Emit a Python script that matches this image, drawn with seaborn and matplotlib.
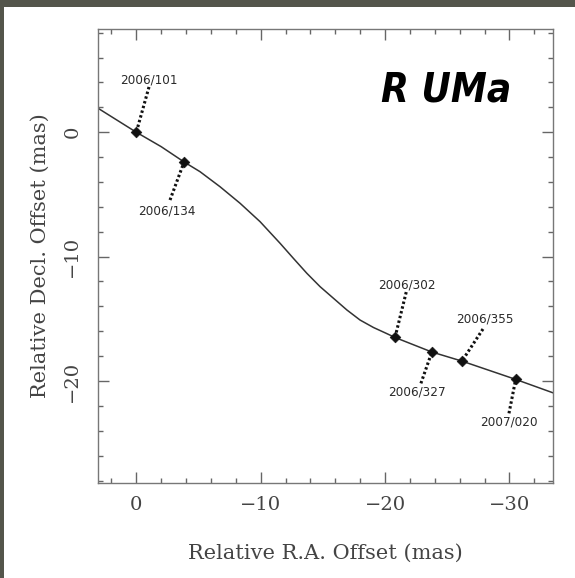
import matplotlib
matplotlib.use("Agg")
import matplotlib.pyplot as plt
import seaborn as sns
import pandas as pd
from matplotlib.patches import Rectangle
from matplotlib.ticker import MultipleLocator

sns.set_style("ticks")
plt.rcParams['font.family'] = ['DejaVu Serif']

# fitted parallax + proper motion track
curve_ra = [3.08, 0, -2.0, -3.84, -5.12, -6.73, -8.34, -9.95, -11.56, -12.63, -13.71,
            -14.78, -15.85, -16.93, -17.99, -19.07, -20.14, -20.8, -23.76, -26.18,
            -30.5, -33.5]
curve_dec = [1.93, 0, -1.16, -2.39, -3.17, -4.38, -5.71, -7.19, -8.93, -10.14, -11.34,
             -12.42, -13.35, -14.29, -15.10, -15.70, -16.19, -16.5, -17.67, -18.4,
             -19.87, -20.95]

# observed epochs
epochs = ["2006/101", "2006/134", "2006/302", "2006/327", "2006/355", "2007/020"]
obs_ra = [0, -3.84, -20.8, -23.76, -26.18, -30.5]
obs_dec = [0, -2.39, -16.5, -17.67, -18.4, -19.87]

# label centres and leader starts
lab_ra = [-1.02, -2.47, -21.74, -22.54, -28.01, -29.93]
lab_dec = [4.21, -6.33, -12.28, -20.87, -15.04, -23.28]
lead_ra = [-1.02, -2.71, -21.70, -22.88, -27.87, -29.96]
lead_dec = [3.64, -5.45, -12.85, -20.19, -15.82, -22.6]

fig = plt.figure(figsize=(5.75, 5.78), dpi=100)
fig.patch.set_facecolor("#54554b")
fig.add_artist(Rectangle((4 / 575, 0), 1, 1 - 7 / 578, transform=fig.transFigure,
                         facecolor="white", edgecolor="none", zorder=0))

ax = fig.add_axes([98 / 575, 95 / 578, 455 / 575, 454 / 578])
ax.set_facecolor("white")

track = pd.DataFrame({"ra": curve_ra, "dec": curve_dec})
obs = pd.DataFrame({"ra": obs_ra, "dec": obs_dec})

sns.lineplot(data=track, x="ra", y="dec", sort=False, color="#333333", lw=1.1, ax=ax)

for i in range(len(epochs)):
    ax.plot([lead_ra[i], obs_ra[i]], [lead_dec[i], obs_dec[i]], color="#111111",
            lw=2.2, linestyle=(0, (0.8, 0.8)))
    ax.text(lab_ra[i], lab_dec[i], epochs[i], ha="center", va="center", fontsize=9.6,
            fontstretch="condensed", color="#2a2a2a", family=["DejaVu Sans"])

sns.scatterplot(data=obs, x="ra", y="dec", marker="D", s=30, color="#111111",
                edgecolor="#111111", zorder=5, ax=ax)

ax.set_xlim(3.08, -33.5)
ax.set_ylim(-28.2, 8.3)

ax.xaxis.set_major_locator(MultipleLocator(10))
ax.xaxis.set_minor_locator(MultipleLocator(2))
ax.yaxis.set_major_locator(MultipleLocator(10))
ax.yaxis.set_minor_locator(MultipleLocator(2))
ax.tick_params(which="both", direction="in", top=True, right=True, color="#666666",
               labelcolor="#444444", labelsize=14)
ax.tick_params(which="major", length=8, width=1)
ax.tick_params(which="minor", length=3.5, width=1)
ax.tick_params(axis="x", pad=9)
ax.tick_params(axis="y", pad=12)
for lab in ax.get_yticklabels():
    lab.set_rotation(90)
    lab.set_va("center")
for s in ax.spines.values():
    s.set_color("#777777")
    s.set_linewidth(1)

ax.set_xlabel("Relative R.A. Offset (mas)", fontsize=15, color="#444444", labelpad=22)
ax.set_ylabel("Relative Decl. Offset (mas)", fontsize=15, color="#444444", labelpad=10)

ax.text(0.765, 0.865, "R UMa", transform=ax.transAxes, ha="center", va="center",
        fontsize=29, fontweight="bold", style="italic", fontstretch="condensed",
        color="black", family=["DejaVu Sans"])

fig.savefig("out.png", dpi=100, facecolor=fig.get_facecolor())
